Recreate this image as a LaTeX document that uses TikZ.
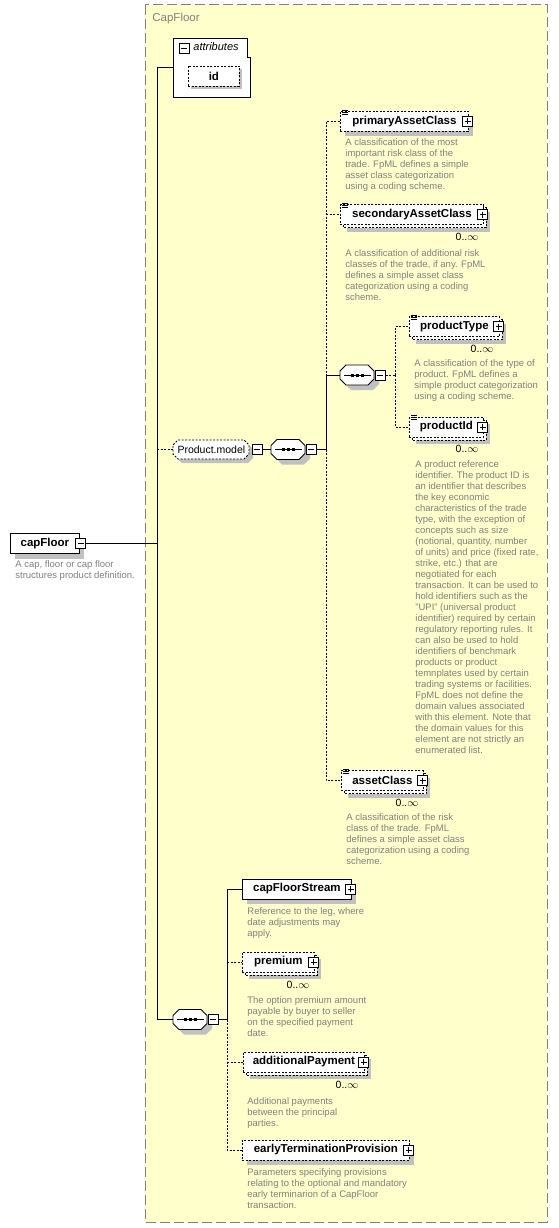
\documentclass[tikz,border=0pt]{standalone}
\usepackage{fontspec}
\setmainfont{Liberation Sans}
\usetikzlibrary{calc}
\definecolor{frameyellow}{RGB}{255,255,204}
\definecolor{framegray}{RGB}{128,128,128}
\definecolor{boxshade}{RGB}{192,192,192}
\definecolor{notegray}{RGB}{128,128,128}
% octagon: left x, middle y, width, height, chamfer
\newcommand{\octat}[5]{(#1+#5,#2-#4/2) -- (#1+#3-#5,#2-#4/2) -- (#1+#3,#2-#4/2+#5) -- (#1+#3,#2+#4/2-#5)
  -- (#1+#3-#5,#2+#4/2) -- (#1+#5,#2+#4/2) -- (#1,#2+#4/2-#5) -- (#1,#2-#4/2+#5) -- cycle}
\tikzset{
  optional/.style = {dash pattern=on 2pt off 1.5pt},
  elem/.style = {draw, fill=white, line width=0.8pt, anchor=west, minimum height=20pt, inner sep=0pt,
    font=\fontsize{11.5}{13}\selectfont\bfseries},
  expander/.style = {draw, fill=white, line width=0.8pt, minimum size=10pt, inner sep=0pt,
    path picture={\draw[line width=0.8pt] ([xshift=2pt]path picture bounding box.west) -- ([xshift=-2pt]path picture bounding box.east);
      \draw[line width=0.8pt] ([yshift=-2pt]path picture bounding box.north) -- ([yshift=2pt]path picture bounding box.south);}},
  collapser/.style = {draw, fill=white, line width=0.8pt, minimum size=10pt, inner sep=0pt,
    path picture={\draw[line width=0.8pt] ([xshift=2pt]path picture bounding box.west) -- ([xshift=-2pt]path picture bounding box.east);}},
  seqbox/.style = {anchor=west, minimum width=34pt, minimum height=20pt, inner sep=0pt},
  groupbox/.style = {anchor=west, minimum width=76pt, minimum height=19pt, inner sep=0pt, font=\fontsize{10.5}{12}\selectfont},
  note/.style = {anchor=north west, align=left, inner sep=0pt, text=notegray, font=\fontsize{9.5}{11}\selectfont},
  card/.style = {inner sep=0pt, font=\fontsize{10.5}{12}\selectfont},
}
\begin{document}
\begin{tikzpicture}[x=1pt, y=-1pt, line width=0.8pt]
\useasboundingbox (0,0) rectangle (558,1228);
% complex type frame
\draw[framegray, line width=1pt, dash pattern=on 10pt off 4pt, fill=frameyellow] (145,5) rectangle (547,1222);
\node[anchor=west, inner sep=0pt, text=framegray, font=\fontsize{11.5}{13}\selectfont] (title) at (152,19) {CapFloor};

% shadows and stacked copies, under the boxes
\foreach \x/\y/\w in {10/543.5/69, 340/121.5/128, 242/889/109, 242/1150/167}
  \fill[boxshade] (\x+5,\y-5) rectangle ++(\w,20);
\fill[boxshade] (191,69) rectangle ++(51,20);
\foreach \x/\y/\w in {340/214.5/143, 409/326.5/90, 409/427/74, 341/780.5/82, 242/962/72, 243/1062/121} {
  \fill[boxshade] (\x+7,\y-3) rectangle ++(\w,20);
  \draw[optional, fill=white] (\x+3,\y-7) rectangle ++(\w,20);
}
\foreach \x/\y in {271/449.5, 340/375, 173/1019.5} {
  \fill[boxshade, shift={(5,5)}] \octat{\x}{\y}{34}{20}{6};
  \draw[fill=white] \octat{\x}{\y}{34}{20}{6};
}
\fill[boxshade, shift={(4,4)}] \octat{173}{449.5}{76}{19}{5};
\draw[optional, fill=white] \octat{173}{449.5}{76}{19}{5};

% root element
\node[elem, minimum width=69pt] (cf) at (10,543.5) {capFloor};
\node[collapser] (cfmin) at ([xshift=1pt]cf.east) {};
\node[note] (cfnote) at (15,560) {A cap, floor or cap floor\\structures product definition.};

% attributes
\node[minimum width=77pt, minimum height=59pt, inner sep=0pt, anchor=north west] (attr) at (173,38) {};
\draw[fill=white] (attr.north west) -- ++(74,0) -- ++(0,19) -- ($(attr.north east)+(0,19)$)
  -- (attr.south east) -- (attr.south west) -- cycle;
\node[collapser] (attrmin) at (184,48) {};
\node[anchor=west, inner sep=0pt, font=\fontsize{11}{13}\selectfont\itshape] (attrlabel) at (193,47) {attributes};
\fill[boxshade] (191,69) rectangle ++(51,20);
\node[elem, optional, minimum width=51pt] (id) at (188,76) {id};

% Product.model group
\node[groupbox] (pm) at (173,449.5) {Product.model};
\node[collapser, anchor=west] (pmmin) at ([xshift=2pt]pm.east) {};
\node[seqbox] (seqA) at (271,449.5) {};
\node[collapser, anchor=west] (seqAmin) at (seqA.east) {};

\node[elem, optional, minimum width=128pt] (pac) at (340,121.5) {primaryAssetClass};
\node[expander] (pacx) at ([xshift=-1pt]pac.east) {};
\node[note] (pacnote) at (345,138) {A classification of the most\\important risk class of the\\trade. FpML defines a simple\\asset class categorization\\using a coding scheme.};

\node[elem, optional, minimum width=143pt] (sac) at (340,214.5) {secondaryAssetClass};
\node[expander] (sacx) at ([xshift=-1pt]sac.east) {};
\node[card] (sacmul) at (467,237) {0..$\infty$};
\node[note] (sacnote) at (345,249) {A classification of additional risk\\classes of the trade, if any. FpML\\defines a simple asset class\\categorization using a coding\\scheme.};

\node[seqbox] (seqB) at (340,375) {};
\node[collapser, anchor=west] (seqBmin) at (seqB.east) {};

\node[elem, optional, minimum width=90pt] (ptype) at (409,326.5) {productType};
\node[expander] (ptypex) at ([xshift=-1pt]ptype.east) {};
\node[card] (ptypemul) at (482,349) {0..$\infty$};
\node[note] (ptypenote) at (414,359) {A classification of the type of\\product. FpML defines a\\simple product categorization\\using a coding scheme.};

\node[elem, optional, minimum width=74pt] (pid) at (409,427) {productId};
\node[expander] (pidx) at ([xshift=-1pt]pid.east) {};
\node[card] (pidmul) at (467,449) {0..$\infty$};
\node[note] (pidnote) at (415,460) {A product reference\\identifier. The product ID is\\an identifier that describes\\the key economic\\characteristics of the trade\\type, with the exception of\\concepts such as size\\(notional, quantity, number\\of units) and price (fixed rate,\\strike, etc.) that are\\negotiated for each\\transaction. It can be used to\\hold identifiers such as the\\"UPI" (universal product\\identifier) required by certain\\regulatory reporting rules. It\\can also be used to hold\\identifiers of benchmark\\products or product\\temnplates used by certain\\trading systems or facilities.\\FpML does not define the\\domain values associated\\with this element. Note that\\the domain values for this\\element are not strictly an\\enumerated list.};

\node[elem, optional, minimum width=82pt] (acls) at (341,780.5) {assetClass};
\node[expander] (aclsx) at ([xshift=-1pt]acls.east) {};
\node[card] (aclsmul) at (407,803) {0..$\infty$};
\node[note] (aclsnote) at (346,813) {A classification of the risk\\class of the trade. FpML\\defines a simple asset class\\categorization using a coding\\scheme.};

% main sequence
\node[seqbox] (seqC) at (173,1019.5) {};
\node[collapser, anchor=west] (seqCmin) at (seqC.east) {};

\node[elem, minimum width=109pt] (cfs) at (242,889) {capFloorStream};
\node[expander] (cfsx) at ([xshift=-1pt]cfs.east) {};
\node[note] (cfsnote) at (247,907) {Reference to the leg, where\\date adjustments may\\apply.};

\node[elem, optional, minimum width=72pt] (prem) at (242,962) {premium};
\node[expander] (premx) at ([xshift=-1pt]prem.east) {};
\node[card] (premmul) at (298,985) {0..$\infty$};
\node[note] (premnote) at (247,996) {The option premium amount\\payable by buyer to seller\\on the specified payment\\date.};

\node[elem, optional, minimum width=121pt] (addp) at (243,1062) {additionalPayment};
\node[expander] (addpx) at ([xshift=-1pt]addp.east) {};
\node[card] (addpmul) at (347,1085) {0..$\infty$};
\node[note] (addpnote) at (247,1097) {Additional payments\\between the principal\\parties.};

\node[elem, optional, minimum width=167pt] (etp) at (242,1150) {earlyTerminationProvision};
\node[expander] (etpx) at ([xshift=-1pt]etp.east) {};
\node[note] (etpnote) at (247,1168) {Parameters specifying provisions\\relating to the optional and mandatory\\early terminarion of a CapFloor\\transaction.};

% simple content marks and sequence glyphs
\foreach \n in {pac,sac,ptype,pid,acls}
  \foreach \k in {0,2,4}
    \draw[line width=0.6pt] ([shift={(2,\k-1)}]\n.north west) -- ++(6,0);
\foreach \s in {seqA,seqB,seqC} {
  \draw ([xshift=4pt]\s.west) -- ([xshift=-4pt]\s.east);
  \foreach \d in {-5,0,5}
    \fill ([shift={(\d-1.5,-1.5)}]\s.center) rectangle ++(3,3);
}

% connectors
\coordinate (spA) at (157,543.5);
\coordinate (spB) at (326,449.5);
\coordinate (spC) at (395,375);
\coordinate (spD) at (227,1019.5);
\draw (cfmin.east) -- (spA);
\draw (spA) |- (attr.west);
\draw (spA) |- (seqC.west);
\draw[optional] (pm.west -| spA) -- (pm.west);
\draw (pmmin.east) -- (seqA.west);
\draw (seqAmin.east) -- (spB);
\draw (spB) |- (seqB.west);
\draw[optional] (spB) |- (pac.west);
\draw[optional] (sac.west -| spB) -- (sac.west);
\draw[optional] (spB) |- (acls.west);
\draw[optional] (seqBmin.east) -- (spC);
\draw[optional] (spC) |- (ptype.west);
\draw[optional] (spC) |- (pid.west);
\draw (seqCmin.east) -- (spD);
\draw (spD) |- (cfs.west);
\draw[optional] (spD) |- (etp.west);
\draw[optional] (prem.west -| spD) -- (prem.west);
\draw[optional] (addp.west -| spD) -- (addp.west);
\end{tikzpicture}
\end{document}
